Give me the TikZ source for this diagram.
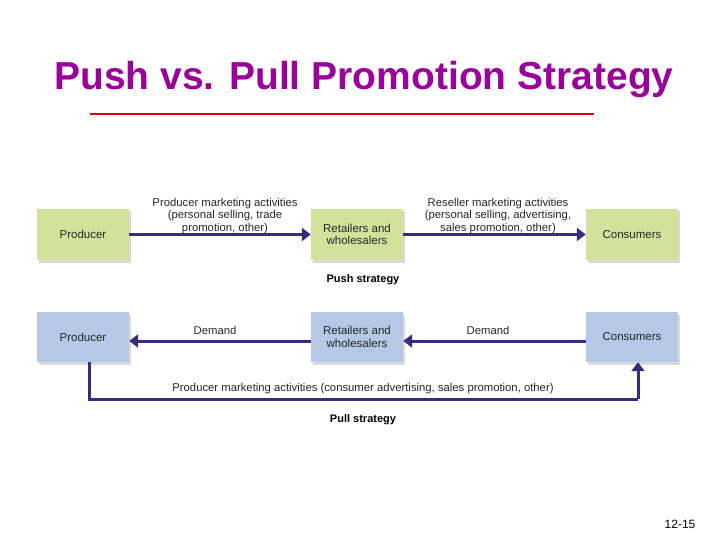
\documentclass[tikz,border=0pt]{standalone}
\usepackage{fontspec}
\setmainfont{Liberation Sans}
\usetikzlibrary{arrows.meta}
\definecolor{grn}{HTML}{D2E29B}
\definecolor{blu}{HTML}{B5C8E6}
\definecolor{arr}{HTML}{3A2A7C}
\definecolor{ttl}{HTML}{990099}
\begin{document}
\begin{tikzpicture}[x=1pt,y=-1pt,
 box/.style={minimum width=92pt,minimum height=51pt,inner sep=0pt,align=center,font=\fontsize{11.5}{12.5}\selectfont,text=black!85},
 ar/.style={draw=arr,line width=3pt,-{Triangle[length=9pt,width=13pt]}},
 lbl/.style={font=\fontsize{11.3}{12.5}\selectfont,align=center,text=black!85},
 captn/.style={font=\bfseries\fontsize{11}{12}\selectfont}]
\useasboundingbox (0,0) rectangle (720,540);
\node[font=\bfseries\fontsize{39}{44}\selectfont,text=ttl] (title) at (364,80) {Push vs. Pull Promotion Strategy};
\draw[red!85!black,line width=2pt] (90,114) -- (594,114);
\foreach \n/\x/\t in {p/83/Producer,r/357/{Retailers and\\wholesalers},c/632/Consumers}{
 \fill[black!15] (\x-44,211.5) rectangle (\x+48,262.5);
 \node[box,fill=grn] (g\n) at (\x,234.5) {\t};
 \fill[black!15] (\x-44,314.5) rectangle (\x+48,364.5);
 \node[box,fill=blu,minimum height=50pt] (b\n) at (\x,337) {\t};
}
\draw[ar] (gp) -- (gr);
\draw[ar] (gr) -- (gc);
\node[lbl] (l1) at (225,216) {Producer marketing activities\\(personal selling, trade\\promotion, other)};
\node[lbl] (l2) at (498,216) {Reseller marketing activities\\(personal selling, advertising,\\sales promotion, other)};
\node[captn] (push) at (363,280) {Push strategy};
\draw[ar] (br.west|-0,341) -- (bp.east|-0,341);
\draw[ar] (bc.west|-0,341) -- (br.east|-0,341);
\node[lbl] (d1) at (215,330) {Demand};
\node[lbl] (d2) at (488,330) {Demand};
\coordinate (c1) at (89,399);
\coordinate (c2) at (638,399);
\draw[ar,-] (bp.south-|c1) -- (c1) -- (c2);
\draw[ar] (c2) -- (bc.south-|c2);
\node[lbl] (l3) at (363,389) {Producer marketing activities (consumer advertising, sales promotion, other)};
\node[captn] (pull) at (363,420) {Pull strategy};
\node[font=\fontsize{12}{13}\selectfont] (pg) at (680,524) {12-15};
\end{tikzpicture}
\end{document}
